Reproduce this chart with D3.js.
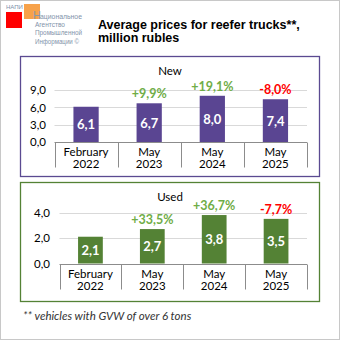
<!DOCTYPE html>
<html>
<head>
<meta charset="utf-8">
<script src="https://cdn.jsdelivr.net/npm/d3@7"></script>
<style>
  body { margin: 0; background: #fff; }
</style>
</head>
<body>
<div id="container"></div>
<script>
const categories = [["February", "2022"], ["May", "2023"], ["May", "2024"], ["May", "2025"]];
const newValues = [6.1, 6.7, 8.0, 7.4];
const newChanges = [null, "+9,9%", "+19,1%", "-8,0%"];
const newTicks = [0, 3, 6, 9];
const usedValues = [2.1, 2.7, 3.8, 3.5];
const usedChanges = [null, "+33,5%", "+36,7%", "-7,7%"];
const usedTicks = [0, 2, 4];

const w = 340;
const h = 340;
const chartFont = "Lato, 'Open Sans', sans-serif";
const svg = d3.select("#container").append("svg")
  .attr("width", w).attr("height", h)
  .style("font-family", chartFont);

const comma = (v) => d3.format(".1f")(v).replace(".", ",");

// outer frame
svg.append("rect").attr("x", 0.5).attr("y", 0.5).attr("width", w - 1).attr("height", h - 1)
  .attr("fill", "#fff").attr("stroke", "#c8c8c8");

// logo
svg.append("text").attr("x", 6).attr("y", 9).attr("font-size", 6)
  .style("font-family", "'Liberation Sans'").attr("fill", "#7d90aa").text("НАПИ");
svg.append("rect").attr("x", 6).attr("y", 12).attr("width", 16).attr("height", 16).attr("fill", "#ff0000");
svg.append("rect").attr("x", 24).attr("y", 4).attr("width", 16).attr("height", 15).attr("fill", "#f7a24a");
svg.append("text").attr("x", 33).attr("y", 19).attr("font-size", 11)
  .style("font-family", "'Liberation Sans Narrow', 'Liberation Sans'").attr("fill", "#8a98a8").text("Н");
const logoLines = ["ациональное", "Агентство", "Промышленной", "Информации ©"];
svg.selectAll(".logo").data(logoLines).enter().append("text")
  .attr("x", (d, i) => i === 0 ? 40 : 35)
  .attr("y", (d, i) => 19 + i * 8.2)
  .attr("font-size", 7.5)
  .style("font-family", "'Liberation Sans Narrow', 'Liberation Sans'")
  .attr("textLength", (d, i) => [42, 30, 47, 44][i])
  .attr("lengthAdjust", "spacingAndGlyphs")
  .attr("fill", "#8293aa")
  .text((d) => d);

// title
svg.append("text").attr("x", 98).attr("y", 29).attr("font-size", 12.5).attr("font-weight", "bold")
  .style("font-family", "'Liberation Sans', Arial").attr("fill", "#000").text("Average prices for reefer trucks**,");
svg.append("text").attr("x", 98).attr("y", 42).attr("font-size", 12.5).attr("font-weight", "bold")
  .style("font-family", "'Liberation Sans', Arial").attr("fill", "#000").text("million rubles");

function drawPanel(cfg) {
  const g = svg.append("g");
  g.append("rect").attr("x", 20.5).attr("y", cfg.top + 0.5).attr("width", 299).attr("height", cfg.height)
    .attr("fill", "#fff").attr("stroke", cfg.border).attr("stroke-width", 1.3);
  g.append("text").attr("x", 170).attr("y", cfg.top + 19).attr("text-anchor", "middle")
    .attr("font-size", 11.5).attr("fill", "#000").text(cfg.label);

  const x = d3.scaleBand().domain(d3.range(categories.length)).range([cfg.x0, 307]);
  const y = d3.scaleLinear().domain([0, cfg.ticks[cfg.ticks.length - 1]]).range([cfg.zero, cfg.ymaxPos]);

  // gridlines
  g.selectAll(".grid").data(cfg.ticks.slice(1)).enter().append("line")
    .attr("x1", cfg.x0).attr("x2", 307)
    .attr("y1", (d) => Math.round(y(d)) + 0.5).attr("y2", (d) => Math.round(y(d)) + 0.5)
    .attr("stroke", "#d9d9d9");

  const yAxis = d3.axisLeft(y).tickValues(cfg.ticks).tickSize(0).tickPadding(0).tickFormat(comma);
  const ya = g.append("g").attr("transform", "translate(" + cfg.labelX + ",0)").call(yAxis);
  ya.select(".domain").remove();
  ya.attr("font-family", null).attr("font-size", null);
  ya.selectAll("text").attr("font-size", 11.5).attr("fill", "#000");

  const bw = x.bandwidth() * 0.4;
  g.selectAll(".bar").data(cfg.values).enter().append("rect")
    .attr("x", (d, i) => x(i) + (x.bandwidth() - bw) / 2)
    .attr("y", (d) => y(d))
    .attr("width", bw)
    .attr("height", (d) => y(0) - y(d))
    .attr("fill", cfg.color);

  g.selectAll(".val").data(cfg.values).enter().append("text")
    .attr("x", (d, i) => x(i) + x.bandwidth() / 2)
    .attr("y", (d) => (y(d) + y(0)) / 2 + 5)
    .attr("text-anchor", "middle").attr("font-size", 13).attr("font-weight", "bold")
    .attr("fill", "#fff").text((d) => comma(d));

  g.selectAll(".chg").data(cfg.changes).enter().append("text")
    .filter((d) => d !== null)
    .attr("x", (d, i) => x(i + 1) + x.bandwidth() / 2)
    .attr("y", (d, i) => y(cfg.values[i + 1]) - 5)
    .attr("text-anchor", "middle").attr("font-size", 12.5).attr("font-weight", "bold")
    .attr("fill", (d) => d[0] === "-" ? "#ff0000" : "#70ad47")
    .text((d) => d);

  // category axis
  const zy = Math.round(y(0)) + 0.5;
  g.append("line").attr("x1", cfg.x0).attr("x2", 307).attr("y1", zy).attr("y2", zy).attr("stroke", "#8c8c8c");
  const bounds = d3.range(categories.length).map((i) => x(i)).concat([307]);
  g.selectAll(".tk").data(bounds).enter().append("line")
    .attr("x1", (d) => Math.round(d) + 0.5).attr("x2", (d) => Math.round(d) + 0.5)
    .attr("y1", zy).attr("y2", zy + 25).attr("stroke", "#8c8c8c");
  const cl = g.selectAll(".cat").data(categories).enter().append("text")
    .attr("text-anchor", "middle").attr("font-size", 11.5).attr("fill", "#000");
  cl.append("tspan").attr("x", (d, i) => x(i) + x.bandwidth() / 2).attr("y", zy + 13).text((d) => d[0]);
  cl.append("tspan").attr("x", (d, i) => x(i) + x.bandwidth() / 2).attr("y", zy + 25).text((d) => d[1]);
}

drawPanel({ top: 56, height: 120, border: "#5b4a91", label: "New", x0: 54.5, zero: 142, ymaxPos: 90,
  ticks: newTicks, values: newValues, changes: newChanges, color: "#5a4592", labelX: 46 });
drawPanel({ top: 182, height: 119, border: "#548235", label: "Used", x0: 59.5, zero: 263.5, ymaxPos: 212.5,
  ticks: usedTicks, values: usedValues, changes: usedChanges, color: "#548235", labelX: 50 });

svg.append("text").attr("x", 23).attr("y", 320).attr("font-size", 11.5).attr("font-style", "italic")
  .attr("fill", "#333").text("** vehicles with GVW of over 6 tons");
</script>
</body>
</html>
